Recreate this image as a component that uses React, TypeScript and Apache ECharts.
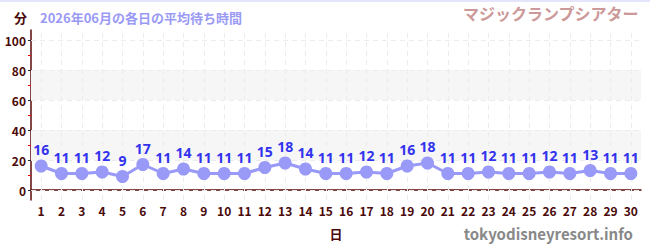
import React, { useEffect, useRef } from "react";
import * as echarts from "echarts";

const days = Array.from({ length: 30 }, (_, i) => String(i + 1));
const waits = [16, 11, 11, 12, 9, 17, 11, 14, 11, 11, 11, 15, 18, 14, 11, 11, 12, 11, 16, 18, 11, 11, 12, 11, 11, 12, 11, 13, 11, 11];
const majorTicks = [0, 20, 40, 60, 80, 100];
const minorTicks = [10, 30, 50, 70, 90];
const bands = [[20, 40], [60, 80]];

const JP = "'Noto Sans CJK JP', sans-serif";
const NS = "'Noto Sans', 'Noto Sans CJK JP', sans-serif";
const DARK = "#4a0a0a";

export default function App() {
  const ref = useRef<HTMLDivElement>(null);
  useEffect(() => {
    const chart = echarts.init(ref.current!, undefined, { renderer: "svg" });
    const yMin = -20 / 3;
    const yMax = 320 / 3;
    const baseY = {
      type: "value",
      position: "left",
      offset: 0,
      min: yMin,
      max: yMax,
      splitLine: { show: false },
      splitArea: { show: false },
    };
    chart.setOption({
      animation: false,
      textStyle: { fontFamily: JP },
      title: [
        { text: "分", left: 9, top: 6, textStyle: { fontSize: 13, fontWeight: "bold", color: DARK, fontFamily: JP } },
        { text: "2026年06月の各日の平均待ち時間", left: 35, top: 6, textStyle: { fontSize: 13, fontWeight: "bold", color: "#9a9af5", fontFamily: JP } },
        { text: "マジックランプシアター", right: 6, top: 0, textStyle: { fontSize: 16, fontWeight: "bold", color: "#cc9999", fontFamily: JP } },
        { text: "tokyodisneyresort.info", right: 12, top: 221, textStyle: { fontSize: 15, fontWeight: "bold", color: "#888888", fontFamily: JP } },
      ],
      graphic: [
        { type: "line", shape: { x1: 0, y1: 1, x2: 650, y2: 1 }, style: { stroke: "#e4e4fb", lineWidth: 2 } },
      ],
      grid: { left: 31, right: 9, top: 30, bottom: 50 },
      xAxis: {
        type: "category",
        data: days,
        boundaryGap: true,
        name: "日",
        nameLocation: "middle",
        nameGap: 27,
        nameTextStyle: { fontSize: 13, fontWeight: "bold", color: DARK, fontFamily: JP },
        axisLine: { lineStyle: { color: "#5a0a0a", width: 1.5 } },
        axisTick: { alignWithLabel: true, length: 4, lineStyle: { color: "#888" } },
        axisLabel: { interval: 0, fontSize: 12, fontWeight: "bold", color: DARK, margin: 4, fontFamily: JP },
        splitLine: { show: false },
      },
      yAxis: [
        {
          ...baseY,
          axisLine: { show: true, lineStyle: { color: "#5a0a0a", width: 1.5 } },
          axisTick: { show: true, customValues: majorTicks, length: 3, lineStyle: { color: "#222" } },
          axisLabel: { customValues: majorTicks, fontSize: 12, fontWeight: "bold", color: DARK, margin: 5, fontFamily: JP },
        },
        {
          ...baseY,
          axisLine: { show: false },
          axisTick: { show: true, inside: true, customValues: majorTicks, length: 3, lineStyle: { color: "#222" } },
          axisLabel: { show: false },
        },
        {
          ...baseY,
          axisLine: { show: false },
          axisTick: { show: true, customValues: minorTicks, length: 3, lineStyle: { color: "#e00" } },
          axisLabel: { show: false },
        },
      ],
      series: [
        {
          type: "line",
          data: [],
          z: 1,
          silent: true,
          markArea: {
            silent: true,
            itemStyle: { color: "#f6f6f6" },
            data: bands.map(([a, b]) => [{ yAxis: a }, { yAxis: b }]),
          },
          markLine: {
            silent: true,
            symbol: "none",
            label: { show: false },
            lineStyle: { color: "#ececec", type: [5, 4], width: 1 },
            data: [
              ...majorTicks.map((v) => ({ yAxis: v })),
              ...days.map((d) => ({ xAxis: d })),
            ],
          },
        },
        {
          type: "line",
          data: waits,
          z: 5,
          symbol: "circle",
          symbolSize: 13,
          lineStyle: { color: "#9999f8", width: 3 },
          itemStyle: { color: "#9999f8" },
          label: { show: true, position: "top", distance: 3, fontSize: 14, fontWeight: "bold", color: "#3333ee", fontFamily: NS },
        },
      ],
    });
    return () => chart.dispose();
  }, []);
  return <div ref={ref} style={{ position: "absolute", left: 0, top: 0, width: 650, height: 250 }} />;
}
